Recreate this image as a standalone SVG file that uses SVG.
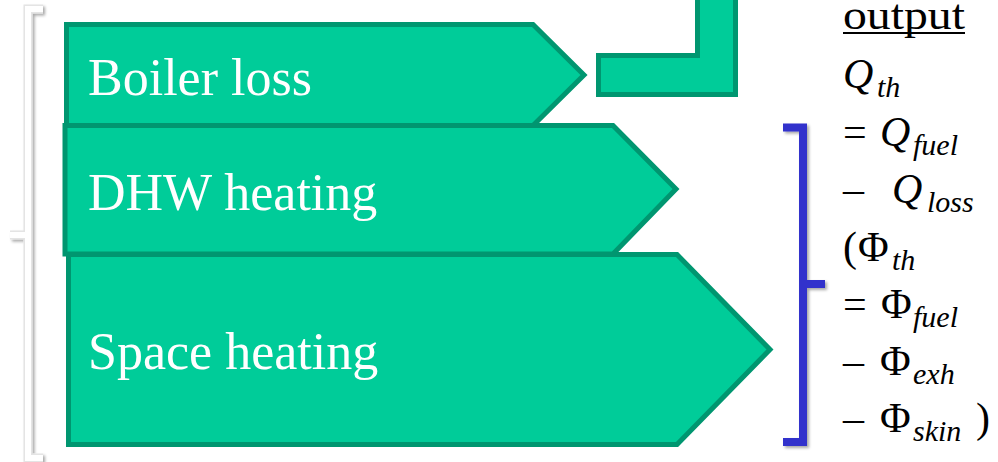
<svg xmlns="http://www.w3.org/2000/svg" width="998" height="462" viewBox="0 0 998 462">
  <defs>
    <filter id="shadow" x="-50%" y="-5%" width="200%" height="110%">
      <feGaussianBlur in="SourceAlpha" stdDeviation="1.5"/>
      <feOffset dx="1.5" dy="2" result="b"/>
      <feComponentTransfer><feFuncA type="linear" slope="0.35"/></feComponentTransfer>
      <feMerge><feMergeNode/><feMergeNode in="SourceGraphic"/></feMerge>
    </filter>
  </defs>
  <style>
    text { font-family: Tinos, "Times New Roman", Times, "Liberation Serif", "Noto Serif", "DejaVu Serif", FreeSerif, serif; }
    .block { fill: #00CC99; stroke: #009670; stroke-width: 5; stroke-linejoin: miter; }
    .label { font-size: 52px; fill: #FFFFFF; }
    .eq { font-size: 42px; fill: #000000; }
    .it { font-style: italic; }
    .sub { font-style: italic; font-size: 30px; }
    .brace { fill: none; stroke-linejoin: miter; stroke-linecap: butt; }
  </style>

  <rect width="998" height="462" fill="#FFFFFF"/>

  <!-- left bracket spanning all three flows -->
  <g id="brace-left" filter="url(#shadow)">
    <path class="brace" d="M43 9 L28 9 L28 235 L10 235 M28 235 L28 458 L43 458" stroke="#E4E4E4" stroke-width="9"/>
    <path class="brace" d="M43 9 L28 9 L28 235 L10 235 M28 235 L28 458 L43 458" stroke="#FFFFFF" stroke-width="6"/>
  </g>

  <!-- energy flow blocks -->
  <g id="boiler-loss">
    <polygon class="block" points="66.5,24.5 533,24.5 584,75 533,125.5 66.5,125.5"/>
    <text class="label" x="88" y="95">Boiler loss</text>
  </g>
  <g id="dhw-heating">
    <polygon class="block" points="65,125.5 613,125.5 676,189 613,254 65,254"/>
    <text class="label" x="88" y="210">DHW heating</text>
  </g>
  <g id="space-heating">
    <polygon class="block" points="68.5,254.5 677,254.5 770,349.5 677,444.5 68.5,444.5"/>
    <text class="label" x="88" y="369">Space heating</text>
  </g>
  <g id="output-arrow">
    <polygon class="block" points="598.5,55.5 697.5,55.5 697.5,-5 735.5,-5 735.5,94.5 598.5,94.5"/>
  </g>

  <!-- right bracket grouping useful heat -->
  <g id="brace-right" filter="url(#shadow)">
    <path class="brace" d="M783 127.5 L803 127.5 L803 284 L825 284 M803 284 L803 442 L783 442" stroke="#3333CC" stroke-width="8"/>
  </g>

  <!-- output formula -->
  <g id="formula" class="eq">
    <text x="843" y="29" textLength="122" lengthAdjust="spacingAndGlyphs">output</text>
    <line x1="843" y1="33" x2="965" y2="33" stroke="#000000" stroke-width="2"/>
    <text x="843" y="88"><tspan class="it">Q</tspan><tspan class="sub" x="877" dy="9">th</tspan></text>
    <text x="843" y="146">=<tspan class="it" x="880">Q</tspan><tspan class="sub" x="913" dy="9">fuel</tspan></text>
    <text x="843" y="203">–<tspan class="it" x="892">Q</tspan><tspan class="sub" x="927" dy="9">loss</tspan></text>
    <text x="843" y="261">(<tspan x="858">Φ</tspan><tspan class="sub" x="892" dy="9">th</tspan></text>
    <text x="843" y="318">=<tspan x="881">Φ</tspan><tspan class="sub" x="913" dy="9">fuel</tspan></text>
    <text x="843" y="375">–<tspan x="880">Φ</tspan><tspan class="sub" x="913" dy="9">exh</tspan></text>
    <text x="843" y="432">–<tspan x="880">Φ</tspan><tspan class="sub" x="913" dy="9">skin</tspan><tspan x="976" dy="-9">)</tspan></text>
  </g>
</svg>
